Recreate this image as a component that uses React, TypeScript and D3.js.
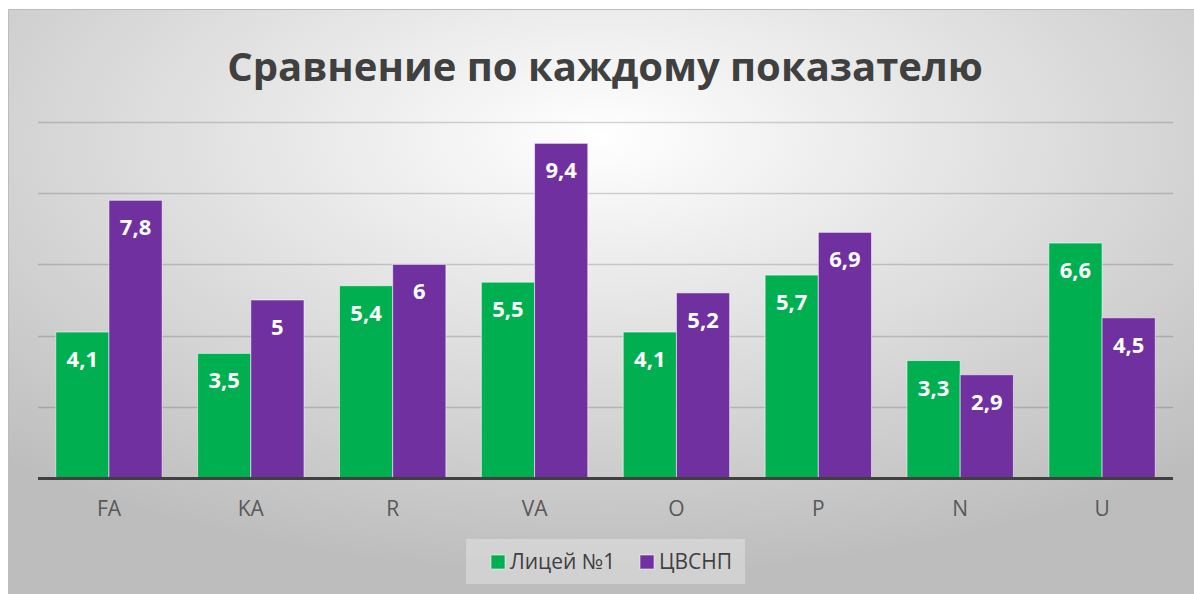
import { useEffect, useRef } from "react";
import * as d3 from "d3";

// данные
const categories = ["FA", "KA", "R", "VA", "O", "P", "N", "U"];
const seriesNames = ["Лицей №1", "ЦВСНП"];
const liceyValues = [4.1, 3.5, 5.4, 5.5, 4.1, 5.7, 3.3, 6.6];
const tsvsnpValues = [7.8, 5, 6, 9.4, 5.2, 6.9, 2.9, 4.5];
const gridTicks = [2, 4, 6, 8, 10];
const colors = ["#00B050", "#7030A0"];

const App = () => {
  const ref = useRef<SVGSVGElement | null>(null);

  useEffect(() => {
    const W = 1194;
    const H = 594;
    const svg = d3.select(ref.current);
    svg.selectAll("*").remove();

    // фон с радиальным градиентом
    const defs = svg.append("defs");
    const grad = defs
      .append("radialGradient")
      .attr("id", "bg")
      .attr("cx", "50%")
      .attr("cy", "22%")
      .attr("r", "75%");
    grad.append("stop").attr("offset", "0%").attr("stop-color", "#ffffff");
    grad.append("stop").attr("offset", "100%").attr("stop-color", "#bdbdbd");

    svg.append("rect").attr("width", W).attr("height", H).attr("fill", "#fff");
    svg
      .append("rect")
      .attr("x", 8)
      .attr("y", 9)
      .attr("width", W - 8)
      .attr("height", H - 9)
      .attr("fill", "url(#bg)");
    svg
      .append("path")
      .attr("d", `M8.5,${H} V9.5 H${W}`)
      .attr("fill", "none")
      .attr("stroke", "#bcbcbc")
      .attr("stroke-width", 1);

    // заголовок
    svg
      .append("text")
      .attr("x", 605)
      .attr("y", 81)
      .attr("text-anchor", "middle")
      .attr("font-family", "'Open Sans', sans-serif")
      .attr("font-weight", 700)
      .attr("font-size", 40)
      .attr("fill", "#404040")
      .text("Сравнение по каждому показателю");

    // шкалы
    const x0 = d3
      .scaleBand<string>()
      .domain(categories)
      .range([38, 1173])
      .paddingInner(0.25)
      .paddingOuter(0.125);
    const x1 = d3
      .scaleBand<number>()
      .domain([0, 1])
      .range([0, x0.bandwidth()])
      .padding(0);
    const y = d3.scaleLinear().domain([0, 10]).range([478, 122]);

    // сетка
    svg
      .append("g")
      .selectAll("line")
      .data(gridTicks)
      .join("line")
      .attr("x1", 38)
      .attr("x2", 1173)
      .attr("y1", (d) => Math.round(y(d)) + 0.5)
      .attr("y2", (d) => Math.round(y(d)) + 0.5)
      .attr("stroke", "rgba(0,0,0,0.16)")
      .attr("stroke-width", 1.5);

    const series = [liceyValues, tsvsnpValues];
    const groups = svg
      .append("g")
      .selectAll("g")
      .data(categories)
      .join("g")
      .attr("transform", (d) => `translate(${x0(d)},0)`);

    groups
      .selectAll("rect")
      .data((_, i) => series.map((s, k) => ({ k, v: s[i] })))
      .join("rect")
      .attr("x", (d) => x1(d.k)!)
      .attr("y", (d) => y(d.v))
      .attr("width", x1.bandwidth())
      .attr("height", (d) => y(0) - y(d.v))
      .attr("fill", (d) => colors[d.k])
      .attr("stroke", "rgba(255,255,255,0.55)")
      .attr("stroke-width", 1);

    // подписи значений
    groups
      .selectAll("text")
      .data((_, i) => series.map((s, k) => ({ k, v: s[i] })))
      .join("text")
      .attr("x", (d) => x1(d.k)! + x1.bandwidth() / 2)
      .attr("y", (d) => y(d.v) + 35)
      .attr("text-anchor", "middle")
      .attr("font-family", "'Open Sans', sans-serif")
      .attr("font-weight", 700)
      .attr("font-size", 22)
      .attr("fill", "#ffffff")
      .text((d) => String(d.v).replace(".", ","));

    // ось X
    svg
      .append("line")
      .attr("x1", 38)
      .attr("x2", 1173)
      .attr("y1", y(0) + 0.5)
      .attr("y2", y(0) + 0.5)
      .attr("stroke", "#404040")
      .attr("stroke-width", 3);

    svg
      .append("g")
      .selectAll("text")
      .data(categories)
      .join("text")
      .attr("x", (d) => x0(d)! + x0.bandwidth() / 2)
      .attr("y", 516)
      .attr("text-anchor", "middle")
      .attr("font-family", "'Open Sans', sans-serif")
      .attr("font-size", 21)
      .attr("fill", "#595959")
      .text((d) => d);

    // легенда
    const legend = svg.append("g");
    legend
      .append("rect")
      .attr("x", 466)
      .attr("y", 539)
      .attr("width", 279)
      .attr("height", 45)
      .attr("fill", "rgba(255,255,255,0.3)");
    const legendX = [491, 640];
    seriesNames.forEach((name, i) => {
      legend
        .append("rect")
        .attr("x", legendX[i])
        .attr("y", 555)
        .attr("width", 14)
        .attr("height", 14)
        .attr("fill", colors[i])
        .attr("stroke", "rgba(255,255,255,0.55)")
        .attr("stroke-width", 1);
      legend
        .append("text")
        .attr("x", legendX[i] + 19)
        .attr("y", 569)
        .attr("font-family", "'Open Sans', sans-serif")
        .attr("font-size", 21)
        .attr("fill", "#404040")
        .text(name);
    });
  }, []);

  return (
    <svg
      ref={ref}
      width={1194}
      height={594}
      style={{ position: "absolute", left: 0, top: 0, display: "block" }}
    />
  );
};

export default App;
